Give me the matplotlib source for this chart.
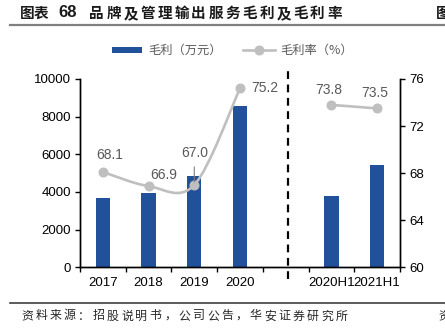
import numpy as np
import matplotlib
matplotlib.use('Agg')
import matplotlib.pyplot as plt
from matplotlib.path import Path
from matplotlib.patches import PathPatch, Rectangle
from matplotlib.lines import Line2D

plt.rcParams['font.family'] = ['Liberation Sans', 'Noto Sans CJK SC', 'DejaVu Sans']

categories = ['2017', '2018', '2019', '2020', '', '2020H1', '2021H1']
gross_profit = [3660, 3950, 4860, 8570, np.nan, 3800, 5450]
margin = [68.1, 66.9, 67.0, 75.2, np.nan, 73.8, 73.5]
title_head = '图表'
title_num = '68'
title_body = '品牌及管理输出服务毛利及毛利率'
source = '资料来源：招股说明书，公司公告，华安证券研究所'
legend_labels = ['毛利（万元）', '毛利率（%）']

BLUE = '#21519B'
GREY = '#BFBFBF'
LABEL = '#595959'
CJK = ['Noto Sans CJK SC', 'DejaVu Sans']
W, H = 445, 335


def fx(px):
    return px / W


def fy(py):
    return 1 - py / H


def smooth_path(xs, ys):
    # excel-like smoothed line: catmull-rom turned into cubic bezier pieces
    pts = np.column_stack([xs, ys])
    verts = [pts[0]]
    codes = [Path.MOVETO]
    n = len(pts)
    for i in range(n - 1):
        p0 = pts[i - 1] if i > 0 else pts[i]
        p1 = pts[i]
        p2 = pts[i + 1]
        p3 = pts[i + 2] if i + 2 < n else pts[i + 1]
        verts += [p1 + (p2 - p0) / 6, p2 - (p3 - p1) / 6, p2]
        codes += [Path.CURVE4] * 3
    return Path(verts, codes)


def spaced_text(fig, s, x_first, pitch, y, **kw):
    # the report fonts have wide letter spacing, so place glyphs one by one
    for i, ch in enumerate(s):
        fig.text(fx(x_first + pitch * i), fy(y), ch, ha='center', va='center', **kw)


fig = plt.figure(figsize=(4.45, 3.35), dpi=100)
ax = fig.add_axes([fx(80), fy(267.3), 320 / W, 188.3 / H])
ax2 = ax.twinx()

x = np.arange(len(categories))
ax.bar(x, gross_profit, width=0.31, color=BLUE, zorder=2)

ax.set_xlim(-0.5, len(categories) - 0.5)
ax.set_ylim(0, 10000)
ax.set_yticks(np.arange(0, 10001, 2000))
ax2.set_ylim(60, 76)
ax2.set_yticks([60, 64, 68, 72, 76])

ax.set_xticks(x)
ax.set_xticklabels(categories)
ax.set_xticks(np.arange(-0.5, len(categories), 1), minor=True)
ax.tick_params(axis='x', which='major', length=0, pad=7, labelsize=9.5)
ax.tick_params(axis='x', which='minor', length=3.5, width=1, direction='out')
ax.tick_params(axis='y', length=3.5, width=1, labelsize=9.5, pad=3)
ax2.tick_params(axis='y', length=3.5, width=1, labelsize=9.5, pad=3)

for a in (ax, ax2):
    a.spines['top'].set_visible(False)
    for s in ('left', 'right', 'bottom'):
        a.spines[s].set_linewidth(1)
        a.spines[s].set_color('black')

# smoothed margin line, broken at the empty slot
groups = [[0, 1, 2, 3], [5, 6]]
for g in groups:
    p = smooth_path(x[g].astype(float), np.array(margin)[g])
    ax2.add_patch(PathPatch(p, fill=False, edgecolor=GREY, lw=1.9, zorder=3))
ax2.plot(x, margin, linestyle='none', marker='o', markersize=6.2,
         color=GREY, zorder=4)

offsets = [(5, 12), (11, 8), (0, 23), (18, 0), (-2, 11), (-1.5, 11)]
valid = [i for i in range(len(margin)) if not np.isnan(margin[i])]
for i, off in zip(valid, offsets):
    arrow = None
    if categories[i] == '2019':
        arrow = dict(arrowstyle='-', color='#7F7F7F', lw=0.8, shrinkA=3, shrinkB=2)
    ax2.annotate(f'{margin[i]:.1f}', (x[i], margin[i]), xytext=off,
                 textcoords='offset points', ha='center', va='center',
                 fontsize=10, color=LABEL, arrowprops=arrow, zorder=5)

# dashed separator between annual and half-year data
ax.plot([4.05, 4.05], [-0.06, 1.04], transform=ax.get_xaxis_transform(),
        color='black', lw=1.6, ls=(0, (3.5, 2.5)), clip_on=False, zorder=5)

# legend drawn by hand to match the spacing
fig.add_artist(Rectangle((fx(112), fy(52.5)), 30 / W, 5 / H,
                         facecolor=BLUE, edgecolor='none'))
fig.text(fx(148), fy(50), legend_labels[0], fontsize=8.8, family=CJK,
         color=LABEL, va='center', ha='left')
fig.add_artist(Line2D([fx(243), fx(275)], [fy(50)] * 2, color=GREY, lw=1.9))
fig.add_artist(Line2D([fx(259)], [fy(50)], color=GREY, marker='o',
                      markersize=6.2, linestyle='none'))
fig.text(fx(280), fy(50), legend_labels[1], fontsize=8.8, family=CJK,
         color=LABEL, va='center', ha='left')

# header and footer
spaced_text(fig, title_head, 27.5, 14, 13, fontsize=10.5, fontweight='bold',
            family=CJK, color='#1A1A1A')
fig.text(fx(58), fy(12.5), title_num, fontsize=12, fontweight='bold',
         family=['Liberation Sans'], va='center', ha='left', color='#1A1A1A')
spaced_text(fig, title_body, 96.5, 17, 13, fontsize=10.5, fontweight='bold',
            family=CJK, color='#1A1A1A')
fig.text(fx(436), fy(13), '图', fontsize=10.5, fontweight='bold',
         family=CJK, va='center', ha='left', color='#1A1A1A')
fig.add_artist(Line2D([fx(10), 1], [fy(25)] * 2, color='#808080', lw=1.6))
fig.add_artist(Line2D([fx(10), 1], [fy(302.7)] * 2, color='#404040', lw=1.2))
spaced_text(fig, source, 27, 14.3, 316, fontsize=8.6, family=CJK, color='#262626')
fig.text(fx(438), fy(316), '资', fontsize=8.6, family=CJK,
         va='center', ha='left', color='#262626')

fig.savefig('out.png', dpi=100)
